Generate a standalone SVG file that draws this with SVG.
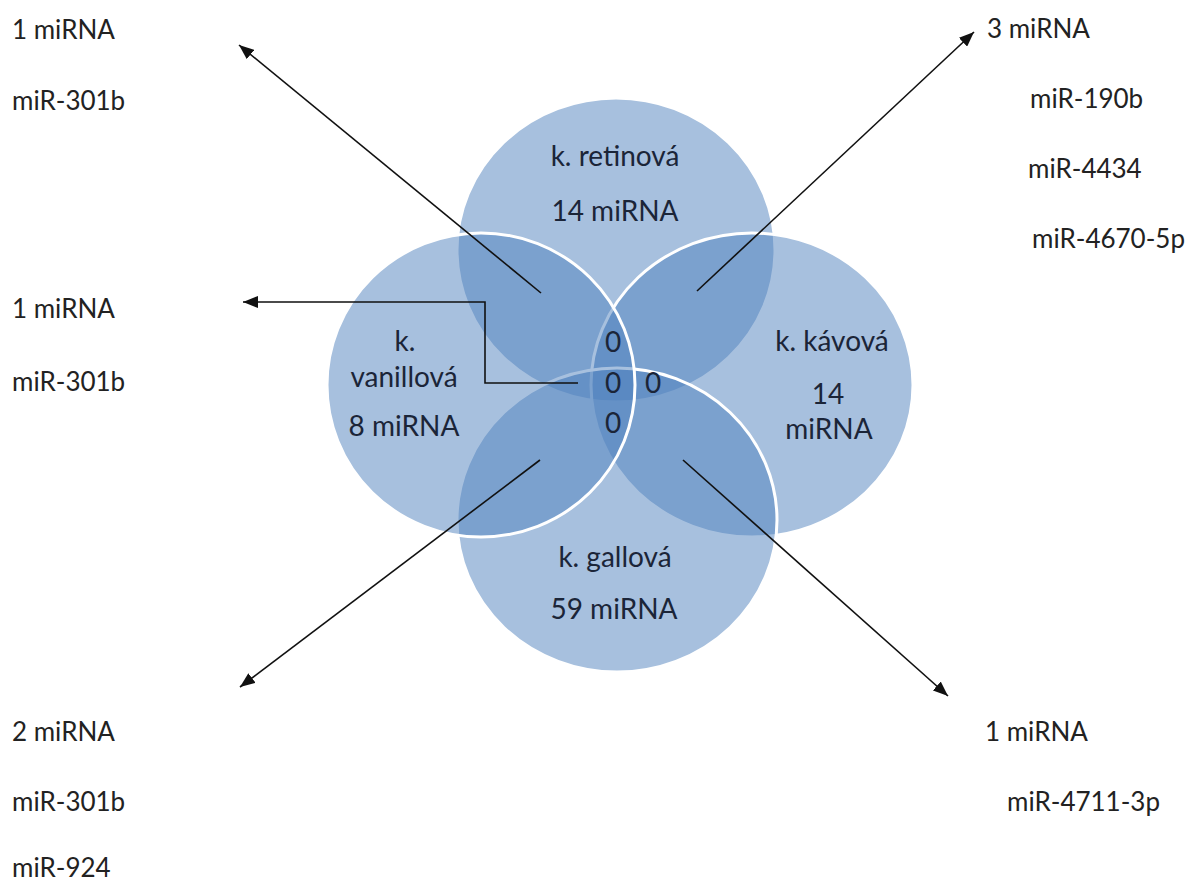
<svg xmlns="http://www.w3.org/2000/svg" width="1191" height="884" viewBox="0 0 1191 884">
<defs>
<style>
.set{fill:#4F81BD;fill-opacity:0.5;stroke:#ffffff;stroke-width:3}
.in{font-family:Lato,"Open Sans","Liberation Sans",sans-serif;font-size:28px;fill:#1b2538;text-anchor:middle}
.out{font-family:Lato,"Open Sans","Liberation Sans",sans-serif;font-size:26px;fill:#222222}
.conn{fill:none;stroke:#111111;stroke-width:1.6}
</style>
<marker id="ah" markerUnits="userSpaceOnUse" markerWidth="16" markerHeight="12" refX="15" refY="6" orient="auto">
<path d="M0,0 L15,6 L0,12 Z" fill="#111111"/>
</marker>
</defs>
<rect width="1191" height="884" fill="#ffffff"/>
<g id="set-retinova">
<ellipse class="set" cx="616" cy="250" rx="159" ry="152"/>
</g>
<g id="set-kavova">
<ellipse class="set" cx="752" cy="385" rx="161" ry="152"/>
</g>
<g id="set-gallova">
<ellipse class="set" cx="617" cy="520" rx="160" ry="152"/>
</g>
<g id="set-vanillova">
<ellipse class="set" cx="481" cy="385" rx="154" ry="152"/>
</g>
<g id="labels-sets">
<text class="in" x="615" y="166">k. retinová</text>
<text class="in" x="615" y="221">14 miRNA</text>
<text class="in" x="405" y="351">k.</text>
<text class="in" x="404" y="387">vanillová</text>
<text class="in" x="404" y="436">8 miRNA</text>
<text class="in" x="832" y="351">k. kávová</text>
<text class="in" x="828" y="404">14</text>
<text class="in" x="829" y="439">miRNA</text>
<text class="in" x="615" y="567">k. gallová</text>
<text class="in" x="614" y="619">59 miRNA</text>
<text class="in" x="613" y="352">0</text>
<text class="in" x="613" y="393">0</text>
<text class="in" x="653" y="393">0</text>
<text class="in" x="613" y="433">0</text>
</g>
<g id="connectors">
<line class="conn" x1="541" y1="293" x2="239" y2="45" marker-end="url(#ah)"/>
<line class="conn" x1="697" y1="291" x2="974" y2="32" marker-end="url(#ah)"/>
<line class="conn" x1="540" y1="460" x2="240" y2="687" marker-end="url(#ah)"/>
<line class="conn" x1="683" y1="460" x2="948" y2="696" marker-end="url(#ah)"/>
<polyline class="conn" points="578,383 485,383 485,302 243,302" marker-end="url(#ah)"/>
</g>
<g id="label-tl">
<text class="out" x="12" y="39">1 miRNA</text>
<text class="out" x="12" y="110">miR-301b</text>
</g>
<g id="label-tr">
<text class="out" x="987" y="38">3 miRNA</text>
<text class="out" x="1030" y="108">miR-190b</text>
<text class="out" x="1028" y="178">miR-4434</text>
<text class="out" x="1032" y="248">miR-4670-5p</text>
</g>
<g id="label-ml">
<text class="out" x="12" y="318">1 miRNA</text>
<text class="out" x="12" y="391">miR-301b</text>
</g>
<g id="label-bl">
<text class="out" x="12" y="741">2 miRNA</text>
<text class="out" x="12" y="811">miR-301b</text>
<text class="out" x="12" y="877">miR-924</text>
</g>
<g id="label-br">
<text class="out" x="985" y="741">1 miRNA</text>
<text class="out" x="1007" y="811">miR-4711-3p</text>
</g>
</svg>
